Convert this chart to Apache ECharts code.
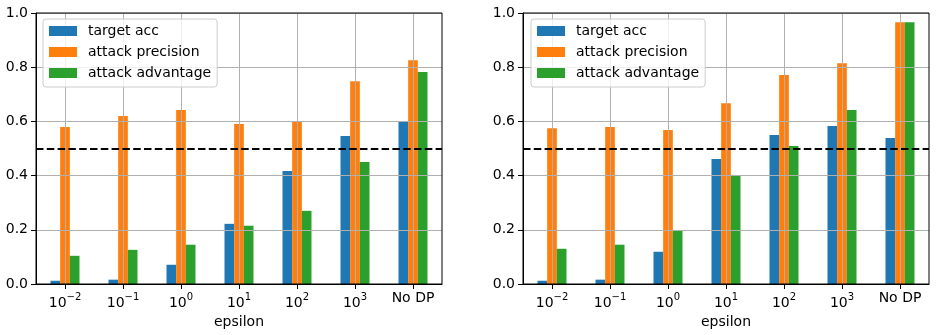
<!DOCTYPE html>
<html><head><meta charset="utf-8">
<script src="https://cdn.jsdelivr.net/npm/echarts@6/dist/echarts.min.js"></script>
<style>html,body{margin:0;padding:0;background:#fff}#c{width:936px;height:335px}</style>
</head><body><div id="c"></div>
<script>
const categories = ['10^{−2}', '10^{−1}', '10^{0}', '10^{1}', '10^{2}', '10^{3}', 'No DP'];
const seriesNames = ['target acc', 'attack precision', 'attack advantage'];
const leftTargetAcc = [0.012, 0.016, 0.071, 0.222, 0.417, 0.546, 0.599];
const leftAttackPrecision = [0.579, 0.620, 0.642, 0.590, 0.599, 0.748, 0.826];
const leftAttackAdvantage = [0.104, 0.126, 0.145, 0.215, 0.270, 0.450, 0.782];
const rightTargetAcc = [0.012, 0.016, 0.119, 0.461, 0.550, 0.583, 0.539];
const rightAttackPrecision = [0.575, 0.579, 0.568, 0.667, 0.771, 0.815, 0.966];
const rightAttackAdvantage = [0.130, 0.145, 0.198, 0.400, 0.509, 0.642, 0.966];
const yMin = 0, yMax = 1, yInterval = 0.2;
const baseline = 0.5;
const xLabel = 'epsilon';

const colors = ['#1f77b4', '#ff7f0e', '#2ca02c'];
const FONT = 'DejaVu Sans';

function fmtCat(v) {
  const m = /^10\^\{(.*)\}$/.exec(v);
  if (m) return '{b|10}{s|' + m[1] + '}';
  return '{n|' + v + '}';
}

function xAxisFor(gi) {
  return {
    type: 'category', gridIndex: gi, data: categories, z: 3,
    name: xLabel, nameLocation: 'middle', nameGap: 28,
    nameTextStyle: {fontFamily: FONT, fontSize: 14, color: '#000', verticalAlign: 'top'},
    axisLine: {show: true, lineStyle: {color: '#000', width: 1}},
    axisTick: {show: true, alignWithLabel: true, length: 5, lineStyle: {color: '#000', width: 1}},
    splitLine: {show: true, alignWithLabel: true, lineStyle: {color: '#b0b0b0', width: 1}},
    axisLabel: {
      interval: 0, margin: 8, formatter: fmtCat,
      rich: {
        b: {fontFamily: FONT, fontSize: 14, color: '#000', lineHeight: 22},
        s: {fontFamily: FONT, fontSize: 10, color: '#000', lineHeight: 16, verticalAlign: 'top'},
        n: {fontFamily: FONT, fontSize: 14, color: '#000', lineHeight: 16, padding: [0, 0, 4, 0]}
      }
    }
  };
}
function yAxisFor(gi) {
  return {
    type: 'value', gridIndex: gi, min: yMin, max: yMax, interval: yInterval, z: 3,
    axisLine: {show: true, lineStyle: {color: '#000', width: 1}},
    axisTick: {show: true, length: 5, lineStyle: {color: '#000', width: 1}},
    splitLine: {show: true, lineStyle: {color: '#b0b0b0', width: 1}},
    axisLabel: {margin: 8, fontFamily: FONT, fontSize: 14, color: '#000',
      formatter: v => v.toFixed(1)}
  };
}
function legendFor(left) {
  return {
    data: seriesNames, orient: 'vertical', left: left, top: 19,
    icon: 'rect', itemWidth: 28, itemHeight: 10, itemGap: 7,
    padding: [5, 6, 7, 6],
    backgroundColor: 'rgba(255,255,255,0.8)', borderColor: '#cccccc', borderWidth: 1, borderRadius: 3,
    textStyle: {fontFamily: FONT, fontSize: 14, color: '#000', lineHeight: 14, padding: [0, 0, 0, 6]},
    selectedMode: false
  };
}
function barsFor(gi, arrs) {
  return arrs.map((d, i) => {
    const s = {
      name: seriesNames[i], type: 'bar', xAxisIndex: gi, yAxisIndex: gi, data: d,
      itemStyle: {color: colors[i]}, barGap: '0%', barCategoryGap: '50%', z: 2,
      emphasis: {disabled: true}
    };
    if (i === 2) {
      s.markLine = {
        silent: true, symbol: 'none', label: {show: false}, z: 5,
        lineStyle: {color: '#000', type: [7.5, 3.3], width: 2},
        emphasis: {disabled: true},
        data: [{yAxis: baseline}]
      };
    }
    return s;
  });
}

const chart = echarts.init(document.getElementById('c'), null, {renderer: 'canvas'});
chart.setOption({
  animation: false,
  backgroundColor: '#fff',
  grid: [
    {left: 36, right: 494, top: 13, bottom: 51, show: true, borderColor: '#000', borderWidth: 1, backgroundColor: 'transparent', z: 4},
    {left: 523, right: 7, top: 13, bottom: 51, show: true, borderColor: '#000', borderWidth: 1, backgroundColor: 'transparent', z: 4}
  ],
  legend: [legendFor(43), legendFor(531)],
  xAxis: [xAxisFor(0), xAxisFor(1)],
  yAxis: [yAxisFor(0), yAxisFor(1)],
  series: [
    ...barsFor(0, [leftTargetAcc, leftAttackPrecision, leftAttackAdvantage]),
    ...barsFor(1, [rightTargetAcc, rightAttackPrecision, rightAttackAdvantage])
  ]
});
</script></body></html>
